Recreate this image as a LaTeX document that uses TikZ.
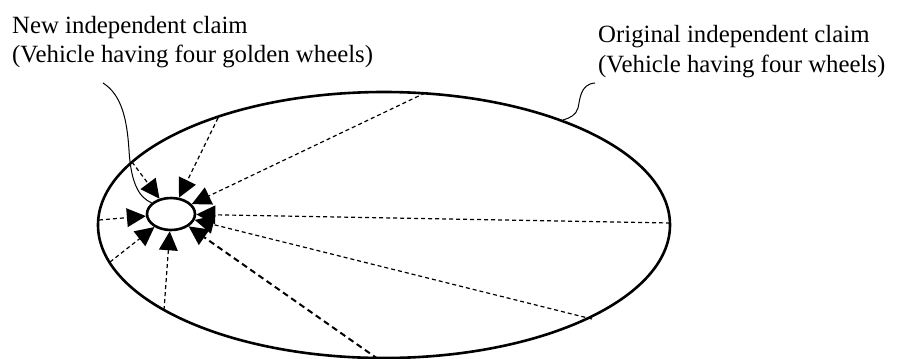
\documentclass[tikz,border=0pt]{standalone}
\usepackage{fontspec}
\setmainfont{Liberation Serif}
\usetikzlibrary{shapes.geometric,arrows.meta}
\begin{document}
\begin{tikzpicture}[x=1pt,y=-1pt,
  bigell/.style={draw,ellipse,line width=2.6pt,minimum width=572pt,minimum height=266pt,inner sep=0pt},
  smallell/.style={draw,ellipse,line width=2.6pt,minimum width=48pt,minimum height=32pt,inner sep=0pt},
  tip/.tip={Triangle[length=19pt,width=19pt,line width=0pt]},
  ray/.style={line width=1.2pt,dash pattern=on 4pt off 3pt,-tip},
  boldray/.style={ray,line width=2pt,dash pattern=on 6pt off 4pt},
  callout/.style={line width=1pt},
  lbl/.style={anchor=base west,inner sep=0pt,font=\fontsize{24.8}{29}\selectfont}]
\useasboundingbox (0,0) rectangle (903,359);
\node[bigell] (big) at (384,225) {};
\node[smallell] (small) at (171,214) {};
% start points on the big ellipse
\coordinate (s1) at (132,162);
\coordinate (s2) at (218,118);
\coordinate (s3) at (425,93);
\coordinate (s4) at (670,223);
\coordinate (s5) at (592,319);
\coordinate (s6) at (378,359);
\coordinate (s7) at (164,310);
\coordinate (s8) at (110,262);
\coordinate (s9) at (99,220);
\foreach \s in {s1,s2,s3,s4,s5,s7,s8,s9}{
  \draw[ray] (\s) -- (small);
}
\draw[boldray] (s6) -- (small);
% callouts
\coordinate (lc) at (103,83);
\draw[callout] (lc) .. controls (122,95) and (127,120) .. (129,150)
  .. controls (131,185) and (140,198) .. (small.150);
\coordinate (rc) at (595,83);
\coordinate (re) at (563,120);
\draw[callout] (rc) .. controls (580,84) and (580,100) .. (578,108)
  .. controls (576,115) and (570,118) .. (re);
% labels
\node[lbl] (t1) at (12,33) {New independent claim};
\node[lbl] (t2) at (12,62) {(Vehicle having four golden wheels)};
\node[lbl] (t3) at (598,42) {Original independent claim};
\node[lbl] (t4) at (598,72) {(Vehicle having four wheels)};
\end{tikzpicture}
\end{document}
